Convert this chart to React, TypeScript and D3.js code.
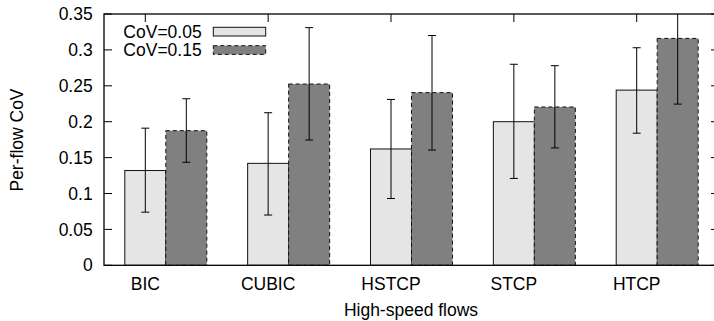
import React from "react";
import * as d3 from "d3";

const categories = ["BIC", "CUBIC", "HSTCP", "STCP", "HTCP"];
const seriesNames = ["CoV=0.05", "CoV=0.15"];
const mean005 = [0.132, 0.142, 0.162, 0.2, 0.244];
const low005 = [0.074, 0.07, 0.093, 0.121, 0.184];
const high005 = [0.191, 0.2125, 0.231, 0.28, 0.303];
const mean015 = [0.1875, 0.2525, 0.2405, 0.2205, 0.316];
const low015 = [0.1435, 0.1745, 0.1605, 0.1635, 0.2245];
const high015 = [0.232, 0.331, 0.32, 0.278, 0.41];
const yTicks = [0, 0.05, 0.1, 0.15, 0.2, 0.25, 0.3, 0.35];

const W = 714, H = 321;
const left = 104, right = 719, top = 14, bottom = 265.3;
const FONT = "'Liberation Sans', Arial, sans-serif";

export default function App() {
  const y = d3.scaleLinear().domain([0, 0.35]).range([bottom, top]);
  const x = d3.scalePoint<string>().domain(categories).range([145.3, 636.7]);
  const inner = d3.scaleBand<string>().domain(seriesNames).range([-20.5, 61.5]);
  const series = [
    { name: seriesNames[0], mean: mean005, low: low005, high: high005, fill: "#e5e5e5", dash: undefined as string | undefined },
    { name: seriesNames[1], mean: mean015, low: low015, high: high015, fill: "#808080", dash: "4,3" },
  ];
  const tickLen = 8;
  const fmt = (v: number) => (v === 0 ? "0" : String(+v.toFixed(2)));
  return (
    <svg width={W} height={H} style={{ position: "absolute", left: 0, top: 0, background: "#fff" }} fontFamily={FONT}>
      <defs>
        <clipPath id="plot">
          <rect x={left} y={top} width={right - left} height={bottom - top} />
        </clipPath>
      </defs>
      {yTicks.map((t) => (
        <g key={t}>
          <line x1={left} x2={left + tickLen} y1={y(t)} y2={y(t)} stroke="#000" />
          <line x1={right} x2={right - tickLen} y1={y(t)} y2={y(t)} stroke="#000" />
          <text x={92.7} y={y(t)} dy="0.35em" textAnchor="end" fontSize={17.5}>{fmt(t)}</text>
        </g>
      ))}
      {categories.map((c) => (
        <g key={c}>
          <line x1={x(c)!} x2={x(c)!} y1={top} y2={top + tickLen} stroke="#000" />
          <text x={x(c)!} y={290} textAnchor="middle" fontSize={17.5}>{c}</text>
        </g>
      ))}
      <g clipPath="url(#plot)">
        {series.map((s) =>
          categories.map((c, i) => {
            const x0 = x(c)! + inner(s.name)!;
            const bw = inner.bandwidth();
            return (
              <rect key={s.name + c} x={x0} y={y(s.mean[i])} width={bw} height={y(0) - y(s.mean[i])}
                fill={s.fill} stroke="#111" strokeWidth={1} strokeDasharray={s.dash} />
            );
          })
        )}
        {series.map((s) =>
          categories.map((c, i) => {
            const cx = x(c)! + inner(s.name)! + inner.bandwidth() / 2;
            return (
              <g key={"e" + s.name + c} stroke="#000" strokeWidth={1}>
                <line x1={cx} x2={cx} y1={y(s.low[i])} y2={y(s.high[i])} />
                <line x1={cx - 4} x2={cx + 4} y1={y(s.low[i])} y2={y(s.low[i])} />
                <line x1={cx - 4} x2={cx + 4} y1={y(s.high[i])} y2={y(s.high[i])} />
              </g>
            );
          })
        )}
      </g>
      <rect x={left} y={top} width={right - left} height={bottom - top} fill="none" stroke="#000" strokeWidth={1.3} />
      {series.map((s, k) => {
        const by = 27.3 + k * 18.4;
        return (
          <g key={"lg" + s.name}>
            <text x={201.7} y={by + 4.3} dy="0.35em" textAnchor="end" fontSize={17.5}>{s.name}</text>
            <rect x={213.3} y={by} width={52.4} height={8.7} fill={s.fill} stroke="#111" strokeDasharray={s.dash} />
          </g>
        );
      })}
      <text x={411} y={316} textAnchor="middle" fontSize={17.5}>High-speed flows</text>
      <text transform={`translate(23,140) rotate(-90)`} textAnchor="middle" fontSize={17.5}>Per-flow CoV</text>
    </svg>
  );
}
